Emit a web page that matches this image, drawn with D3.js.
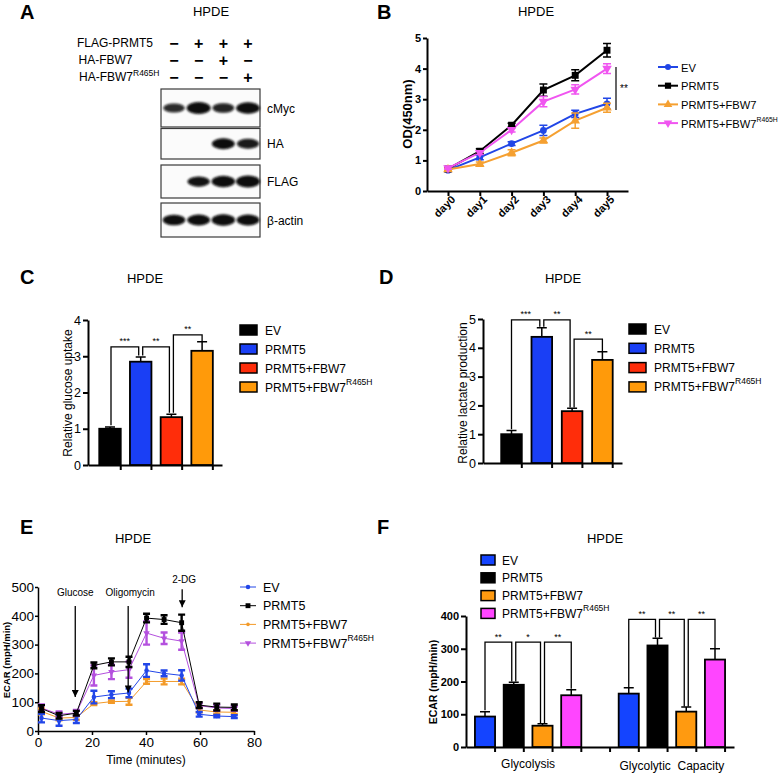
<!DOCTYPE html>
<html><head><meta charset="utf-8">
<script src="https://cdn.jsdelivr.net/npm/d3@7"></script>
<style>body{margin:0;background:#fff} svg{font-family:Arial,"Liberation Sans",Helvetica,sans-serif}</style>
</head><body><svg id="c" width="778" height="773"></svg>
<script>
// ---------------- DATA ----------------
const groups = ["EV", "PRMT5", "PRMT5+FBW7", "PRMT5+FBW7R465H"];

// Panel A (western blot)
const blotRows = ["FLAG-PRMT5", "HA-FBW7", "HA-FBW7R465H"];
const blotSigns = [["−", "+", "+", "+"], ["−", "−", "+", "−"], ["−", "−", "−", "+"]];
const blotProteins = ["cMyc", "HA", "FLAG", "β-actin"];
const bandIntensity = [[0.6, 1.0, 0.65, 0.95], [0, 0, 0.85, 0.7], [0, 0.75, 0.9, 1.0], [0.8, 0.85, 0.9, 0.85]];

// Panel B (OD450 growth)
const days = ["day0", "day1", "day2", "day3", "day4", "day5"];
const odEV = [0.68, 1.10, 1.55, 1.98, 2.52, 2.85];
const odEVErr = [0.05, 0.08, 0.06, 0.17, 0.12, 0.18];
const odPRMT5 = [0.72, 1.30, 2.15, 3.30, 3.78, 4.60];
const odPRMT5Err = [0.05, 0.08, 0.06, 0.20, 0.18, 0.22];
const odFBW7 = [0.70, 0.88, 1.25, 1.65, 2.30, 2.72];
const odFBW7Err = [0.04, 0.07, 0.10, 0.08, 0.25, 0.15];
const odMut = [0.75, 1.25, 2.00, 2.92, 3.32, 4.00];
const odMutErr = [0.04, 0.06, 0.07, 0.17, 0.15, 0.16];
const bTicks = [0, 1, 2, 3, 4, 5];

// Panel C (glucose uptake)
const glucose = [1.0, 2.85, 1.32, 3.15];
const glucoseErr = [0.05, 0.13, 0.08, 0.25];
const cTicks = [0, 1, 2, 3, 4];

// Panel D (lactate production)
const lactate = [1.0, 4.38, 1.80, 3.58];
const lactateErr = [0.13, 0.32, 0.10, 0.28];
const dTicks = [0, 1, 2, 3, 4, 5];

// Panel E (ECAR time course)
const eTime = [1.3, 7.8, 14.2, 20.7, 27.2, 33.7, 40.2, 46.7, 53.2, 59.7, 66.2, 72.7];
const ecarEV = [45, 36, 40, 118, 126, 132, 210, 200, 193, 58, 52, 50];
const ecarEVErr = [15, 18, 12, 22, 12, 15, 22, 10, 18, 8, 4, 5];
const ecarPRMT5 = [78, 53, 62, 228, 240, 240, 392, 387, 376, 90, 83, 82];
const ecarPRMT5Err = [12, 10, 8, 10, 12, 18, 15, 15, 28, 10, 12, 10];
const ecarFBW7 = [68, 45, 47, 95, 102, 103, 172, 172, 172, 73, 66, 65];
const ecarFBW7Err = [10, 8, 8, 5, 4, 12, 8, 10, 10, 8, 6, 6];
const ecarMut = [80, 58, 63, 193, 205, 213, 340, 322, 312, 88, 80, 78];
const ecarMutErr = [12, 10, 10, 35, 25, 28, 40, 20, 30, 8, 10, 8];
const eXTicks = [0, 20, 40, 60, 80];
const eYTicks = [0, 100, 200, 300, 400, 500];
const injections = ["Glucose", "Oligomycin", "2-DG"];
const injectionTime = [13.8, 33.4, 53.4];
const injectionFrom = [434, 434, 492];
const injectionTo = [118, 134, 430];
const injectionLabelY = [470, 470, 515];

// Panel F (glycolysis / glycolytic capacity)
const fCategories = ["Glycolysis", "Glycolytic  Capacity"];
const glycolysis = [93, 190, 65, 158];
const glycolysisErr = [15, 8, 6, 17];
const capacity = [163, 310, 108, 267];
const capacityErr = [18, 22, 14, 33];
const fTicks = [0, 100, 200, 300, 400];

// ---------------- HELPERS ----------------
const svg = d3.select("#c");
const intFmt = d3.format("d");

function richLabel(sel, name, supSize, supDy) {
  const i = name.indexOf("R465H");
  if (i < 0) { sel.text(name); return; }
  sel.append("tspan").text(name.slice(0, i));
  sel.append("tspan").attr("font-size", supSize).attr("dy", supDy).text("R465H");
}
function panelLetter(ch, x, y) {
  svg.append("text").attr("x", x).attr("y", y).attr("font-size", 20).attr("font-weight", "bold").text(ch);
}
function title(x, y) {
  svg.append("text").attr("x", x).attr("y", y).attr("text-anchor", "middle").attr("font-size", 13).text("HPDE");
}
function bandScale(domain, r0, r1, step, firstCenter, pi) {
  const n = domain.length;
  const po = ((r1 - r0) / step - n + pi) / 2;
  const bw = step * (1 - pi);
  const align = (firstCenter - bw / 2 - r0) / ((r1 - r0) - step * (n - pi));
  return d3.scaleBand().domain(domain).range([r0, r1]).paddingInner(pi).paddingOuter(po).align(Math.max(0, Math.min(1, align)));
}
function styleAxis(g, w, fs, bold) {
  g.select(".domain").attr("stroke", "#000").attr("stroke-width", w);
  g.selectAll(".tick line").attr("stroke", "#000").attr("stroke-width", w);
  g.selectAll(".tick text").attr("fill", "#000").attr("font-size", fs).attr("font-weight", bold ? "bold" : "normal")
    .attr("font-family", "Arial, 'Liberation Sans', sans-serif");
}
function bracket(g, x1, y1, x2, y2, yTop, label, fs) {
  g.append("path").attr("d", `M${x1},${y1}V${yTop}H${x2}V${y2}`).attr("fill", "none").attr("stroke", "#000").attr("stroke-width", 1.3);
  g.append("text").attr("x", (x1 + x2) / 2).attr("y", yTop - 2.5).attr("text-anchor", "middle").attr("font-size", fs || 9).text(label);
}

// ---------------- PANEL A ----------------
panelLetter("A", 20, 19);
title(211, 16);
const laneX = d3.scalePoint().domain([0, 1, 2, 3]).range([174, 248]);
blotRows.forEach((r, i) => {
  const t = svg.append("text").attr("x", i === 0 ? 77 : 78 + i * 0.5).attr("y", 47 + i * 17).attr("font-size", 12);
  richLabel(t, r, 8.5, -5);
  blotSigns[i].forEach((s, j) => {
    svg.append("text").attr("x", laneX(j)).attr("y", 49 + i * 17).attr("text-anchor", "middle")
      .attr("font-size", 16).attr("font-weight", "bold").text(s);
  });
});
const defs = svg.append("defs");
defs.append("filter").attr("id", "blur").attr("x", "-50%").attr("y", "-100%").attr("width", "200%").attr("height", "300%")
  .append("feGaussianBlur").attr("stdDeviation", 1.3);
const boxTop = [89, 128.5, 165, 203];
const boxH = [38, 30.5, 33, 34];
blotProteins.forEach((p, i) => {
  svg.append("rect").attr("x", 161).attr("y", boxTop[i]).attr("width", 99).attr("height", boxH[i])
    .attr("fill", "#fbfbfb").attr("stroke", "#3a3a3a").attr("stroke-width", 1.2);
  const cy = boxTop[i] + boxH[i] / 2;
  bandIntensity[i].forEach((v, j) => {
    if (v <= 0) return;
    svg.append("ellipse").attr("cx", laneX(j)).attr("cy", cy).attr("rx", 9 + 3 * v).attr("ry", 2.5 + 3.5 * v)
      .attr("fill", "#080808").attr("opacity", Math.min(1, 0.45 + v * 0.7)).attr("filter", "url(#blur)");
  });
  svg.append("text").attr("x", 267).attr("y", cy + 4.5).attr("font-size", 12).text(p);
});

// ---------------- PANEL B ----------------
panelLetter("B", 377, 19);
title(536, 16);
{
  const x = d3.scalePoint().domain(days).range([427, 628]).padding(0.66);
  const y = d3.scaleLinear().domain([0, 5]).range([191, 38]);
  const g = svg.append("g");
  const ya = g.append("g").attr("transform", "translate(427,0)").call(d3.axisLeft(y).tickValues(bTicks).tickFormat(intFmt).tickSize(4).tickSizeOuter(0).tickPadding(2));
  styleAxis(ya, 2, 11, true);
  const xa = g.append("g").attr("transform", "translate(0,191)").call(d3.axisBottom(x).tickSize(5).tickSizeOuter(0));
  styleAxis(xa, 2, 11, true);
  xa.selectAll(".tick text").attr("text-anchor", "end").attr("dx", "-0.1em").attr("dy", "0.35em").attr("transform", "rotate(-45)");
  g.append("text").attr("transform", "translate(412,114) rotate(-90)").attr("text-anchor", "middle")
    .attr("font-size", 13).attr("font-weight", "bold").text("OD(450nm)");
  const series = [
    {v: odEV, e: odEVErr, c: "#2146e6", s: d3.symbolCircle, size: 36, rot: 0},
    {v: odPRMT5, e: odPRMT5Err, c: "#000000", s: d3.symbolSquare, size: 48, rot: 0},
    {v: odFBW7, e: odFBW7Err, c: "#f5a031", s: d3.symbolTriangle, size: 40, rot: 0},
    {v: odMut, e: odMutErr, c: "#f055f0", s: d3.symbolTriangle, size: 40, rot: 180}
  ];
  const line = d3.line().x((d, i) => x(days[i])).y(d => y(d));
  series.forEach(sr => {
    g.append("path").attr("d", line(sr.v)).attr("fill", "none").attr("stroke", sr.c).attr("stroke-width", 2);
  });
  series.forEach(sr => {
    sr.v.forEach((v, i) => {
      const cx = x(days[i]);
      g.append("path").attr("d", `M${cx},${y(v - sr.e[i])}V${y(v + sr.e[i])}M${cx - 4},${y(v - sr.e[i])}h8M${cx - 4},${y(v + sr.e[i])}h8`)
        .attr("stroke", sr.c).attr("stroke-width", 1.5).attr("fill", "none");
      g.append("path").attr("d", d3.symbol(sr.s, sr.size)()).attr("fill", sr.c)
        .attr("transform", `translate(${cx},${y(v)}) rotate(${sr.rot})`);
    });
  });
  g.append("line").attr("x1", 616).attr("x2", 616).attr("y1", 67).attr("y2", 110).attr("stroke", "#000").attr("stroke-width", 1.2);
  g.append("text").attr("x", 620).attr("y", 92).attr("font-size", 10).text("**");
  // legend
  groups.forEach((n, i) => {
    const ly = 67 + i * 18.7, sr = series[i];
    g.append("line").attr("x1", 658).attr("x2", 678).attr("y1", ly).attr("y2", ly).attr("stroke", sr.c).attr("stroke-width", 2);
    g.append("path").attr("d", d3.symbol(sr.s, sr.size * 0.8)()).attr("fill", sr.c).attr("transform", `translate(668,${ly}) rotate(${sr.rot})`);
    const t = g.append("text").attr("x", 681).attr("y", ly + 4.5).attr("font-size", 11.2);
    richLabel(t, n, 6.8, -6);
  });
}

// ---------------- BAR PANEL HELPER ----------------
function barPanel(o) {
  const g = svg.append("g");
  const x = o.x, y = o.y;
  const ya = g.append("g").attr("transform", `translate(${o.r0},0)`).call(d3.axisLeft(y).tickValues(o.ticks).tickFormat(intFmt).tickSize(5).tickSizeOuter(0).tickPadding(2));
  styleAxis(ya, 2, o.tickFs, o.tickBold);
  const xa = g.append("g").attr("transform", `translate(0,${y(0)})`).call(d3.axisBottom(x).tickSize(5).tickSizeOuter(0).tickFormat(""));
  styleAxis(xa, 2, 1, false);
  xa.selectAll(".tick line").attr("transform", `translate(${x.bandwidth() / 2},0)`);
  o.bars.forEach(b => {
    const bx = x(b.key), bw = x.bandwidth(), cx = bx + bw / 2;
    g.append("path").attr("d", `M${cx},${y(b.v)}V${y(b.v + b.e)}M${cx - 5},${y(b.v + b.e)}h10`).attr("stroke", "#000").attr("stroke-width", 1.5).attr("fill", "none");
    g.append("rect").attr("x", bx).attr("y", y(b.v)).attr("width", bw).attr("height", y(0) - y(b.v))
      .attr("fill", b.c).attr("stroke", "#000").attr("stroke-width", 1.8);
  });
  return g;
}

// ---------------- PANEL C ----------------
panelLetter("C", 20, 284);
title(145, 283);
{
  const x = bandScale(groups, 88, 222, 30.7, 110, 0.3);
  const y = d3.scaleLinear().domain([0, 4]).range([465, 320]);
  const colors = ["#000000", "#1a3ff5", "#ff2d0a", "#ff9a0a"];
  const g = barPanel({x, y, r0: 88, ticks: cTicks, tickFs: 12.5, tickBold: false,
    bars: groups.map((k, i) => ({key: k, v: glucose[i], e: glucoseErr[i], c: colors[i]}))});
  const c = k => x(k) + x.bandwidth() / 2;
  bracket(g, c(groups[0]) + 1, y(1.1), c(groups[1]) - 2, y(3.02), y(3.26), "***");
  bracket(g, c(groups[1]) + 2, y(3.02), c(groups[2]) - 2, y(1.44), y(3.26), "**");
  bracket(g, c(groups[2]) + 2, y(1.44), c(groups[3]), y(3.42), y(3.59), "**");
  g.append("text").attr("transform", "translate(72,393) rotate(-90)").attr("text-anchor", "middle").attr("font-size", 12).text("Relative glucose uptake");
  groups.forEach((n, i) => {
    const ly = 330 + i * 19;
    g.append("rect").attr("x", 240).attr("y", ly - 5).attr("width", 17).attr("height", 10).attr("fill", colors[i]).attr("stroke", "#000").attr("stroke-width", 1.5);
    const t = g.append("text").attr("x", 265).attr("y", ly + 4.5).attr("font-size", 12);
    richLabel(t, n, 8.5, -7);
  });
}

// ---------------- PANEL D ----------------
panelLetter("D", 379, 284);
title(563, 283);
{
  const x = bandScale(groups, 483, 622, 30.3, 511.5, 0.32);
  const y = d3.scaleLinear().domain([0, 5]).range([463, 319]);
  const colors = ["#000000", "#1a3ff5", "#ff2d0a", "#ff9a0a"];
  const g = barPanel({x, y, r0: 483, ticks: dTicks, tickFs: 12.5, tickBold: false,
    bars: groups.map((k, i) => ({key: k, v: lactate[i], e: lactateErr[i], c: colors[i]}))});
  const c = k => x(k) + x.bandwidth() / 2;
  bracket(g, c(groups[0]), y(1.17), c(groups[1]) - 2, y(4.73), y(4.97), "***");
  bracket(g, c(groups[1]) + 2, y(4.73), c(groups[2]) - 2, y(1.93), y(4.97), "**");
  bracket(g, c(groups[2]) + 2, y(1.93), c(groups[3]), y(3.89), y(4.3), "**");
  g.append("text").attr("transform", "translate(467,393) rotate(-90)").attr("text-anchor", "middle").attr("font-size", 12).text("Relative lactate production");
  groups.forEach((n, i) => {
    const ly = 329 + i * 19.3;
    g.append("rect").attr("x", 629).attr("y", ly - 5).attr("width", 17).attr("height", 10).attr("fill", colors[i]).attr("stroke", "#000").attr("stroke-width", 1.5);
    const t = g.append("text").attr("x", 654).attr("y", ly + 4.5).attr("font-size", 12);
    richLabel(t, n, 8.5, -7);
  });
}

// ---------------- PANEL E ----------------
panelLetter("E", 20, 534);
title(133, 543);
{
  const x = d3.scaleLinear().domain([0, 80]).range([38, 254]);
  const y = d3.scaleLinear().domain([0, 500]).range([731, 587]);
  const g = svg.append("g");
  const ya = g.append("g").attr("transform", "translate(38,0)").call(d3.axisLeft(y).tickValues(eYTicks).tickFormat(intFmt).tickSize(3).tickSizeOuter(0).tickPadding(1));
  styleAxis(ya, 1.5, 13.5, false);
  const xa = g.append("g").attr("transform", "translate(0,731)").call(d3.axisBottom(x).tickValues(eXTicks).tickFormat(intFmt).tickSize(4).tickSizeOuter(0).tickPadding(2));
  styleAxis(xa, 1.5, 13.5, false);
  g.append("text").attr("x", 146).attr("y", 764).attr("text-anchor", "middle").attr("font-size", 12).text("Time (minutes)");
  g.append("text").attr("transform", "translate(10,660) rotate(-90)").attr("text-anchor", "middle").attr("font-size", 9.5).attr("font-weight", "bold").text("ECAR (mpH/min)");
  const series = [
    {v: ecarEV, e: ecarEVErr, c: "#2246e8", s: d3.symbolCircle, size: 16, rot: 0},
    {v: ecarPRMT5, e: ecarPRMT5Err, c: "#000000", s: d3.symbolSquare, size: 24, rot: 0},
    {v: ecarFBW7, e: ecarFBW7Err, c: "#f39a28", s: d3.symbolCircle, size: 10, rot: 0},
    {v: ecarMut, e: ecarMutErr, c: "#b450de", s: d3.symbolTriangle, size: 18, rot: 180}
  ];
  const line = d3.line().x((d, i) => x(eTime[i])).y(d => y(d));
  [2, 0, 3, 1].forEach(k => {
    const sr = series[k];
    g.append("path").attr("d", line(sr.v)).attr("fill", "none").attr("stroke", sr.c).attr("stroke-width", 1);
    sr.v.forEach((v, i) => {
      const cx = x(eTime[i]);
      g.append("path").attr("d", `M${cx},${y(v - sr.e[i])}V${y(v + sr.e[i])}M${cx - 3.5},${y(v - sr.e[i])}h7M${cx - 3.5},${y(v + sr.e[i])}h7`)
        .attr("stroke", sr.c).attr("stroke-width", 2.4).attr("fill", "none");
      g.append("path").attr("d", d3.symbol(sr.s, sr.size)()).attr("fill", sr.c).attr("transform", `translate(${cx},${y(v)}) rotate(${sr.rot})`);
    });
  });
  // injection arrows
  defs.append("marker").attr("id", "arr").attr("viewBox", "0 0 10 10").attr("refX", 10).attr("refY", 5)
    .attr("markerWidth", 7).attr("markerHeight", 7).attr("markerUnits", "userSpaceOnUse").attr("orient", "auto")
    .append("path").attr("d", "M0,0L10,5L0,10Z").attr("fill", "#000");
  injections.forEach((n, i) => {
    const ax = x(injectionTime[i]);
    g.append("line").attr("x1", ax).attr("x2", ax).attr("y1", y(injectionFrom[i])).attr("y2", y(injectionTo[i]))
      .attr("stroke", "#000").attr("stroke-width", 1.3).attr("marker-end", "url(#arr)");
    g.append("text").attr("x", ax + (i === 0 ? 0 : 2)).attr("y", y(injectionLabelY[i])).attr("text-anchor", "middle").attr("font-size", 10).text(n);
  });
  groups.forEach((n, i) => {
    const ly = 587 + i * 18.7, sr = series[i];
    g.append("line").attr("x1", 240).attr("x2", 256).attr("y1", ly).attr("y2", ly).attr("stroke", sr.c).attr("stroke-width", 1);
    g.append("path").attr("d", d3.symbol(sr.s, sr.size)()).attr("fill", sr.c).attr("transform", `translate(248,${ly}) rotate(${sr.rot})`);
    const t = g.append("text").attr("x", 263).attr("y", ly + 4.5).attr("font-size", 12.5);
    richLabel(t, n, 8.5, -7);
  });
}

// ---------------- PANEL F ----------------
panelLetter("F", 377, 534);
title(605, 543);
{
  const slots = ["g0", "g1", "g2", "g3", "gap", "c0", "c1", "c2", "c3"];
  const x = bandScale(slots, 466, 734, 28.75, 485, 0.3);
  const y = d3.scaleLinear().domain([0, 400]).range([747, 616]);
  const colors = ["#1444ff", "#000000", "#ff9a10", "#ff45ff"];
  const bars = [];
  groups.forEach((k, i) => bars.push({key: "g" + i, v: glycolysis[i], e: glycolysisErr[i], c: colors[i]}));
  groups.forEach((k, i) => bars.push({key: "c" + i, v: capacity[i], e: capacityErr[i], c: colors[i]}));
  const g = barPanel({x, y, r0: 466, ticks: fTicks, tickFs: 11, tickBold: true, bars});
  const c = k => x(k) + x.bandwidth() / 2;
  const glyTop = 320, capTop = 390;
  bracket(g, c("g0"), y(112), c("g1") - 2, y(200), y(glyTop), "**");
  bracket(g, c("g1") + 2, y(200), c("g2") - 2, y(73), y(glyTop), "*");
  bracket(g, c("g2") + 2, y(73), c("g3"), y(178), y(glyTop), "**");
  bracket(g, c("c0"), y(183), c("c1") - 2, y(334), y(capTop), "**");
  bracket(g, c("c1") + 2, y(334), c("c2") - 2, y(124), y(capTop), "**");
  bracket(g, c("c2") + 2, y(124), c("c3"), y(302), y(capTop), "**");
  g.append("text").attr("x", (c("g1") + c("g2")) / 2).attr("y", 768).attr("text-anchor", "middle").attr("font-size", 12).text(fCategories[0]);
  g.append("text").attr("x", (c("c1") + c("c2")) / 2).attr("y", 770).attr("text-anchor", "middle").attr("font-size", 12).attr("xml:space", "preserve").style("white-space", "pre").text(fCategories[1]);
  g.append("text").attr("transform", "translate(437,682) rotate(-90)").attr("text-anchor", "middle").attr("font-size", 10.5).attr("font-weight", "bold").text("ECAR (mpH/min)");
  groups.forEach((n, i) => {
    const ly = 560 + i * 17.8;
    g.append("rect").attr("x", 481).attr("y", ly - 5).attr("width", 14).attr("height", 10).attr("fill", colors[i]).attr("stroke", "#000").attr("stroke-width", 1.5);
    const t = g.append("text").attr("x", 502).attr("y", ly + 4.5).attr("font-size", 12);
    richLabel(t, n, 8.5, -7);
  });
}
</script></body></html>
